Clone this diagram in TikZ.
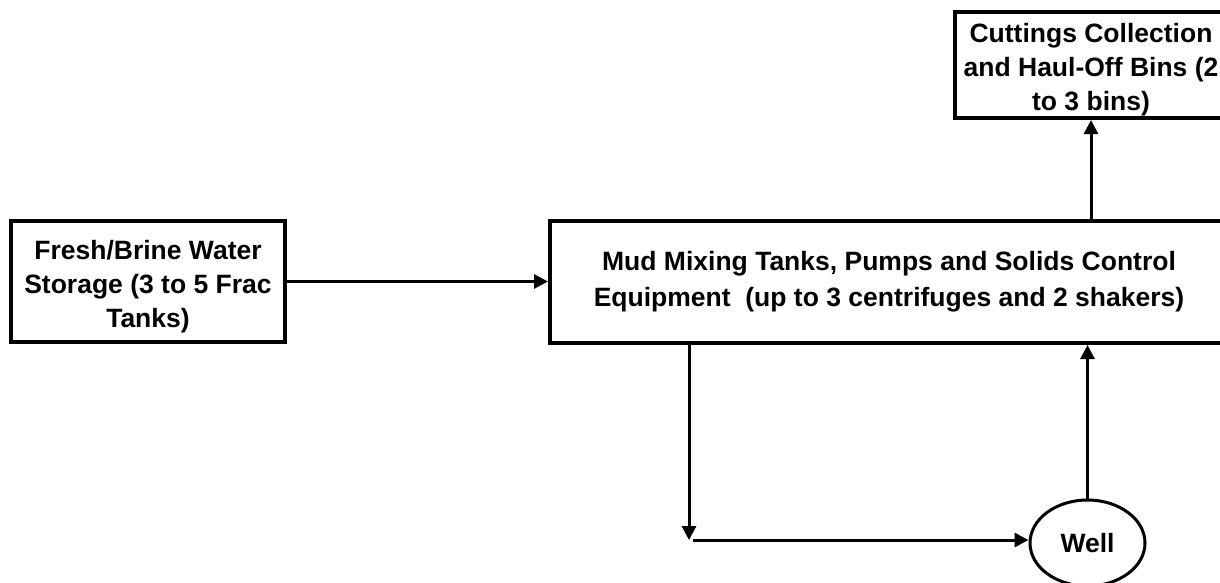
\documentclass[tikz,border=0pt]{standalone}
\usepackage{fontspec}
\setmainfont{Liberation Sans}
\usetikzlibrary{arrows.meta,shapes.geometric}
\newcommand{\topstrut}{\rule{0pt}{29pt}}
\tikzset{
  box/.style={draw, line width=4pt, rectangle, inner sep=0pt, align=center,
    font=\bfseries\fontsize{26.5}{34}\selectfont},
  arr/.style={line width=3pt, -{Triangle[length=14pt,width=14pt]}},
}
\begin{document}
\begin{tikzpicture}[x=1pt,y=-1pt]
\clip (0,0) rectangle (1220,582);
\fill[white] (0,0) rectangle (1220,582);

\node[box, minimum width=274pt, minimum height=121pt] (fresh) at (148,281.5)
  {\topstrut Fresh/Brine Water\\Storage (3 to 5 Frac\\Tanks)};
\node[box, minimum width=678pt, minimum height=122pt,
  font=\bfseries\fontsize{26.5}{36}\selectfont] (mud) at (889,282)
  {Mud Mixing Tanks, Pumps and Solids Control\\Equipment\ \ (up to 3 centrifuges and 2 shakers)};
\node[box, minimum width=272pt, minimum height=106pt] (cut) at (1091,65)
  {\topstrut Cuttings Collection\\and Haul-Off Bins (2\\to 3 bins)};
\node[draw, ellipse, line width=3pt, inner sep=0pt, minimum width=115pt, minimum height=86pt,
  font=\bfseries\fontsize{26.5}{34}\selectfont] (well) at (1087.5,543) {Well};

\coordinate (turn) at (689,540);

\draw[arr] (fresh.east) -- (fresh.east -| mud.west);
\draw[arr] (mud.north -| cut.south) -- (cut.south);
\draw[arr] (mud.south -| turn) -- (turn);
\draw[arr] ([xshift=4pt]turn) -- (turn -| well.west);
\draw[arr] (well.north) -- (well.north |- mud.south);
\end{tikzpicture}
\end{document}
